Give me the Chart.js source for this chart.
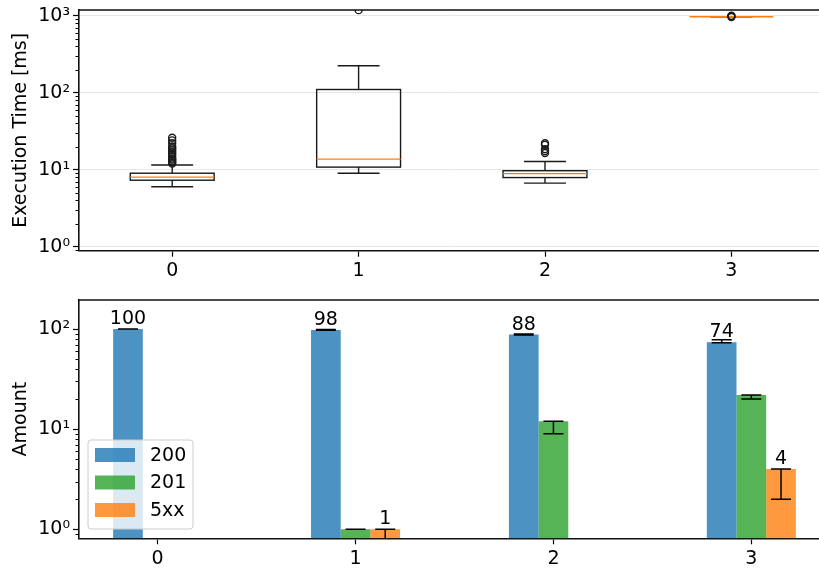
<!DOCTYPE html>
<html>
<head>
<meta charset="utf-8">
<script src="https://cdn.jsdelivr.net/npm/chart.js@4/dist/chart.umd.min.js"></script>
<style>
  html, body { margin: 0; padding: 0; background: #fff; overflow: hidden; }
  #wrap { position: relative; width: 819px; height: 568px; overflow: hidden; }
  canvas { position: absolute; left: 0; }
  #boxes { top: 0; }
  #bars { top: 290px; }
</style>
</head>
<body>
<div id="wrap">
  <canvas id="boxes" width="830" height="290"></canvas>
  <canvas id="bars" width="830" height="278"></canvas>
</div>
<script>
// categories on the x axis (both plots)
const categories = ["0", "1", "2", "3"];

// box plot statistics (ms)
const whiskerLow = [6.0, 9.0, 6.7, 970];
const q1 = [7.3, 10.8, 7.9, 970];
const medians = [8.0, 13.7, 8.9, 970];
const q3 = [9.0, 110, 9.7, 970];
const whiskerHigh = [11.5, 224, 12.8, 970];
const outliers = [
    [12, 12.5, 13, 13.5, 14, 15, 16, 17, 18, 19, 20, 22, 24, 26],
    [1180],
    [16.5, 17.5, 18.5, 21, 22],
    [960, 985, 1000]
];

// status code counts for the bottom plot
const statusCodes = ["200", "201", "5xx"];
const counts200 = [100, 98, 88, 74];
const counts201 = [null, 1, 12, 22];
const counts5xx = [null, 1, null, 4];
// error bar ranges (low / high)
const errLow200 = [100, 97, 87, 73];
const errHigh200 = [100, 99, 89, 78];
const errLow201 = [null, 1, 9, 20];
const errHigh201 = [null, 1, 12, 22];
const errLow5xx = [null, 0.5, null, 2];
const errHigh5xx = [null, 1, null, 4];
// which series get a value label above the bar
const showLabels = [true, false, true];

const topTicks = [1, 10, 100, 1000];
const bottomTicks = [1, 10, 100];
const sup = { 0: "\u2070", 1: "\u00b9", 2: "\u00b2", 3: "\u00b3" };

const FONT = "'DejaVu Sans', sans-serif";
Chart.defaults.font.family = FONT;
Chart.defaults.font.size = 19;
Chart.defaults.color = "#000";

const SPINE = "#111";

//draws the top and right spines
const framePlugin = {
    id: "frame",
    afterDraw(chart) {
        const { ctx, chartArea: a } = chart;
        ctx.save();
        ctx.strokeStyle = SPINE;
        ctx.lineWidth = 1.6;
        ctx.beginPath();
        ctx.moveTo(a.left, a.top);
        ctx.lineTo(a.right, a.top);
        ctx.lineTo(a.right, a.bottom);
        ctx.stroke();
        ctx.restore();
    }
};

//small minor ticks on the log axis
const minorTickPlugin = {
    id: "minorTicks",
    afterDraw(chart) {
        const y = chart.scales.y;
        const ctx = chart.ctx;
        ctx.save();
        ctx.strokeStyle = "#000";
        ctx.lineWidth = 1;
        const e0 = Math.floor(Math.log10(y.min));
        const e1 = Math.ceil(Math.log10(y.max));
        for (let e = e0; e <= e1; e++) {
            for (let m = 2; m <= 9; m++) {
                const v = m * Math.pow(10, e);
                if (v < y.min || v > y.max) continue;
                const py = Math.round(y.getPixelForValue(v)) + 0.5;
                ctx.beginPath();
                ctx.moveTo(y.right - 3.5, py);
                ctx.lineTo(y.right, py);
                ctx.stroke();
            }
        }
        ctx.restore();
    }
};

//box plot: boxes, whiskers, caps and medians through the chart scales
const boxPlugin = {
    id: "boxes",
    beforeDatasetsDraw(chart) {
        const { ctx, chartArea: a } = chart;
        const xs = chart.scales.x, ys = chart.scales.y;
        const half = 0.225, capHalf = 0.1125;
        ctx.save();
        ctx.beginPath();
        ctx.rect(a.left, a.top, a.right - a.left, a.bottom - a.top);
        ctx.clip();
        ctx.lineWidth = 1.4;
        for (let i = 0; i < categories.length; i++) {
            const xl = xs.getPixelForValue(i - half);
            const xr = xs.getPixelForValue(i + half);
            const xc = xs.getPixelForValue(i);
            const cl = xs.getPixelForValue(i - capHalf);
            const cr = xs.getPixelForValue(i + capHalf);
            const yq1 = ys.getPixelForValue(q1[i]);
            const yq3 = ys.getPixelForValue(q3[i]);
            const ylo = ys.getPixelForValue(whiskerLow[i]);
            const yhi = ys.getPixelForValue(whiskerHigh[i]);
            const ymed = ys.getPixelForValue(medians[i]);
            ctx.strokeStyle = "#1a1a1a";
            ctx.beginPath();
            // whiskers
            ctx.moveTo(xc, yq1); ctx.lineTo(xc, ylo);
            ctx.moveTo(xc, yq3); ctx.lineTo(xc, yhi);
            // caps
            ctx.moveTo(cl, ylo); ctx.lineTo(cr, ylo);
            ctx.moveTo(cl, yhi); ctx.lineTo(cr, yhi);
            ctx.stroke();
            if (Math.abs(yq1 - yq3) > 0.5) {
                ctx.strokeRect(xl, yq3, xr - xl, yq1 - yq3);
            }
            ctx.strokeStyle = "#ff7f0e";
            ctx.beginPath();
            ctx.moveTo(xl, ymed); ctx.lineTo(xr, ymed);
            ctx.stroke();
        }
        ctx.restore();
    }
};

const outlierPoints = [];
outliers.forEach((arr, i) => arr.forEach(v => outlierPoints.push({ x: i, y: v })));

new Chart(document.getElementById("boxes"), {
    type: "scatter",
    plugins: [boxPlugin, framePlugin, minorTickPlugin],
    data: {
        datasets: [{
            data: outlierPoints,
            pointStyle: "circle",
            radius: 3.5,
            borderWidth: 1.4,
            borderColor: "#1a1a1a",
            backgroundColor: "rgba(0,0,0,0)",
            clip: 0
        }]
    },
    options: {
        responsive: false,
        animation: false,
        devicePixelRatio: 1,
        layout: { padding: { top: 10, left: 0, right: 0, bottom: 0 } },
        plugins: { legend: { display: false }, tooltip: { enabled: false } },
        scales: {
            x: {
                type: "linear",
                min: -0.5,
                max: 3.5,
                afterBuildTicks: (s) => { s.ticks = categories.map((c, i) => ({ value: i })); },
                afterFit: (s) => { s.height = 39.3; s.paddingLeft = 0; s.paddingRight = 0; },
                ticks: { callback: (v) => categories[v], padding: 3, maxRotation: 0 },
                grid: { drawOnChartArea: false, tickLength: 6, tickColor: "#000", tickWidth: 1.2 },
                border: { color: SPINE, width: 1.6 }
            },
            y: {
                type: "logarithmic",
                min: 0.887,
                max: 1185,
                afterBuildTicks: (s) => { s.ticks = topTicks.map(v => ({ value: v })); },
                afterFit: (s) => { s.width = 79; s.paddingTop = 0; s.paddingBottom = 0; },
                ticks: { callback: (v) => "10" + sup[Math.round(Math.log10(v))], padding: 3 },
                grid: { color: "#e6e6e6", lineWidth: 1, tickLength: 6, tickColor: "#000", tickWidth: 1.2 },
                border: { color: SPINE, width: 1.6 },
                title: { display: true, text: "Execution Time [ms]", padding: { top: 10, bottom: 0 } }
            }
        }
    }
});

//error bars and value labels on the bar chart
const errorBarPlugin = {
    id: "errorBars",
    afterDatasetsDraw(chart) {
        const { ctx, chartArea: a } = chart;
        const ys = chart.scales.y;
        const lows = [errLow200, errLow201, errLow5xx];
        const highs = [errHigh200, errHigh201, errHigh5xx];
        ctx.save();
        ctx.beginPath();
        ctx.rect(a.left, a.top, a.right - a.left, a.bottom - a.top);
        ctx.clip();
        ctx.strokeStyle = "#000";
        ctx.lineWidth = 1.5;
        chart.data.datasets.forEach((ds, d) => {
            const meta = chart.getDatasetMeta(d);
            meta.data.forEach((bar, i) => {
                if (lows[d][i] == null) return;
                const yl = ys.getPixelForValue(lows[d][i]);
                const yh = ys.getPixelForValue(highs[d][i]);
                ctx.beginPath();
                ctx.moveTo(bar.x, yl); ctx.lineTo(bar.x, yh);
                ctx.moveTo(bar.x - 10, yl); ctx.lineTo(bar.x + 10, yl);
                ctx.moveTo(bar.x - 10, yh); ctx.lineTo(bar.x + 10, yh);
                ctx.stroke();
            });
        });
        ctx.restore();

        ctx.save();
        ctx.fillStyle = "#000";
        ctx.font = "19px " + FONT;
        ctx.textAlign = "center";
        ctx.textBaseline = "alphabetic";
        chart.data.datasets.forEach((ds, d) => {
            if (!showLabels[d]) return;
            const meta = chart.getDatasetMeta(d);
            meta.data.forEach((bar, i) => {
                const v = ds.data[i].y;
                if (v == null) return;
                ctx.fillText(String(v), bar.x, bar.y - 5);
            });
        });
        ctx.restore();
    }
};

//legend in the lower left corner of the plot area
const legendPlugin = {
    id: "innerLegend",
    afterDraw(chart) {
        const { ctx, chartArea: a } = chart;
        const left = a.left + 9, w = 105, h = 89;
        const top = a.bottom - 9.3 - h;
        ctx.save();
        ctx.fillStyle = "rgba(255,255,255,0.8)";
        ctx.strokeStyle = "#cccccc";
        ctx.lineWidth = 1;
        ctx.beginPath();
        ctx.roundRect(left, top, w, h, 3);
        ctx.fill();
        ctx.stroke();
        ctx.font = "19px " + FONT;
        ctx.textBaseline = "middle";
        ctx.textAlign = "left";
        chart.data.datasets.forEach((ds, d) => {
            const cy = top + 15 + d * 27.5;
            ctx.fillStyle = ds.backgroundColor;
            ctx.fillRect(left + 7, cy - 7, 40, 14);
            ctx.fillStyle = "#000";
            ctx.fillText(ds.label, left + 62, cy + 1);
        });
        ctx.restore();
    }
};

const seriesValues = [counts200, counts201, counts5xx];
const seriesColors = ["rgba(31,119,180,0.8)", "rgba(44,160,44,0.8)", "rgba(255,127,14,0.8)"];

new Chart(document.getElementById("bars"), {
    type: "bar",
    plugins: [errorBarPlugin, framePlugin, minorTickPlugin, legendPlugin],
    data: {
        datasets: statusCodes.map((code, d) => ({
            label: code,
            data: seriesValues[d].map((v, i) => ({ x: i, y: v })),
            backgroundColor: seriesColors[d],
            borderWidth: 0,
            categoryPercentage: 0.45,
            barPercentage: 1.0
        }))
    },
    options: {
        responsive: false,
        animation: false,
        devicePixelRatio: 1,
        layout: { padding: { top: 10, left: 0, right: 0, bottom: 0 } },
        plugins: { legend: { display: false }, tooltip: { enabled: false } },
        scales: {
            x: {
                type: "linear",
                offset: false,
                min: -0.3975,
                max: 3.3975,
                afterBuildTicks: (s) => { s.ticks = categories.map((c, i) => ({ value: i })); },
                afterFit: (s) => { s.height = 29.7; s.paddingLeft = 0; s.paddingRight = 0; },
                ticks: { callback: (v) => categories[v], padding: 3, maxRotation: 0 },
                grid: { offset: false, drawOnChartArea: false, tickLength: 6, tickColor: "#000", tickWidth: 1.2 },
                border: { color: SPINE, width: 1.6 }
            },
            y: {
                type: "logarithmic",
                min: 0.813,
                max: 195,
                afterBuildTicks: (s) => { s.ticks = bottomTicks.map(v => ({ value: v })); },
                afterFit: (s) => { s.width = 79; s.paddingTop = 0; s.paddingBottom = 0; },
                ticks: { callback: (v) => "10" + sup[Math.round(Math.log10(v))], padding: 3 },
                grid: { drawOnChartArea: false, tickLength: 6, tickColor: "#000", tickWidth: 1.2 },
                border: { color: SPINE, width: 1.6 },
                title: { display: true, text: "Amount", padding: { top: 10, bottom: 0 } }
            }
        }
    }
});
</script>
</body>
</html>
